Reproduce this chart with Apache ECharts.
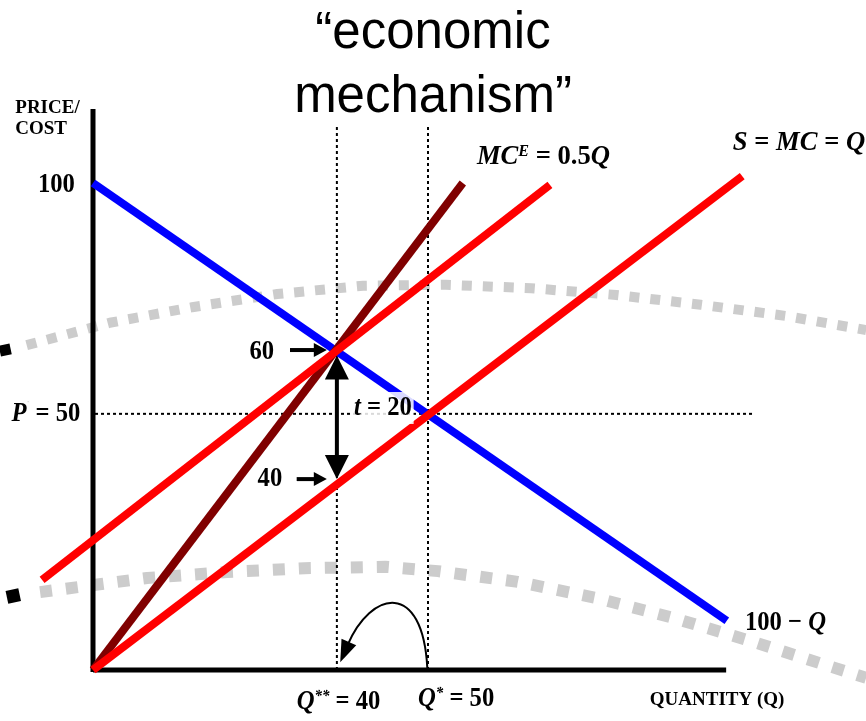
<!DOCTYPE html>
<html>
<head>
<meta charset="utf-8">
<title>economic mechanism</title>
<script src="https://cdn.jsdelivr.net/npm/echarts@6/dist/echarts.min.js"></script>
<style>
  html, body { margin: 0; padding: 0; background: #fff; }
  #main { width: 866px; height: 721px; }
</style>
</head>
<body>
<div id="main"></div>
<script>
// schematic diagram units: x = quantity, y = price / cost
var demand = [[0, 100], [94.6, 10.1]];            // 100 - Q
var supplyTaxed = [[-7.6, 18.5], [68.2, 99.6]];   // supply shifted up by t
var mcExternal = [[0, 0], [55.2, 100]];           // MC^E
var supply = [[0, 0], [96.9, 101.4]];             // S = MC = Q
var yAxisLine = [[0, -0.4], [0, 115.2]];
var xAxisLine = [[0, 0], [94.5, 0]];

var qStarStar = 36.4, qStar = 50, pLevel = 52.6, guideTop = 111.9;

var upperArc = [[-9.9, 66.7], [2.5, 71.3], [14.8, 74.5], [27.5, 77.2], [40.3, 78.9], [52.7, 79.1],
  [65.4, 78.4], [78.1, 77.0], [90.7, 75.0], [103.4, 72.7], [115.4, 69.8]];
var lowerArc = [[-7.9, 16.0], [8.1, 18.9], [20.0, 20.1], [31.6, 20.9], [43.6, 21.2], [51.5, 20.3],
  [63.4, 18.1], [75.1, 14.8], [86.6, 10.7], [98.5, 5.8], [109.4, 1.0], [115.4, -1.6]];
var arcEnds = [[-13.1, 65.7], [-11.9, 15.2]];

// x1, y1, x2, y2, heads (2 = both ends)
var straightArrows = [[36.4, 64.6, 36.4, 39.2, 2], [29.4, 65.7, 34.9, 65.7, 1], [30.4, 39.2, 34.9, 39.2, 1]];
// start, control 1, control 2, end
var curvedArrow = [[49.9, 0.4, 49.2, 18.5, 41.5, 16.4, 36.9, 1.6]];

var labelText = ['{b|100}', '{i|P}{t|\u02c8}{b| = 50}', '{b|60}', '{b|40}', '{i|t}{b| = 20}',
  '{i|MC}{s|E}{b| = 0.5}{i|Q}', '{i|S}{b| = }{i|MC}{b| = }{i|Q}', '{b|100 \u2212 }{i|Q}',
  '{i|Q}{s|**}{b| = 40}', '{i|Q}{s|*}{b| = 50}', '{c|QUANTITY (Q)}', '{c|PRICE/}\n{c|COST}'];
var labelAt = [[-2.7, 99.6], [-1.9, 52.6], [25.2, 65.3], [26.4, 39.2], [38.7, 53.8],
  [57.3, 105.3], [95.5, 108.2], [97.3, 9.7], [30.4, -6.6], [48.5, -6.0], [83.1, -6.2], [-11.6, 117.5]];
var labelStyle = [
  {align: 'right'}, {align: 'right'}, {align: 'center'}, {align: 'center', bg: '#fff'},
  {align: 'left', bg: 'rgba(255,255,255,0.85)'}, {align: 'left', sx: 0.95}, {align: 'left', sx: 0.95}, {align: 'left'},
  {align: 'left'}, {align: 'left'}, {align: 'left', sx: 1}, {align: 'left', va: 'top', sx: 1}
];

var serif = 'Liberation Serif, Times New Roman, serif';
var rich = {
  b: {fontFamily: serif, fontWeight: 'bold', fontSize: 28, fill: '#000'},
  i: {fontFamily: serif, fontWeight: 'bold', fontStyle: 'italic', fontSize: 28, fill: '#000'},
  s: {fontFamily: serif, fontWeight: 'bold', fontStyle: 'italic', fontSize: 17, fill: '#000', verticalAlign: 'top'},
  t: {fontFamily: serif, fontSize: 9, fill: '#999', verticalAlign: 'top'},
  c: {fontFamily: serif, fontWeight: 'bold', fontSize: 19, lineHeight: 21, fill: '#000'}
};

var chartDom = document.getElementById('main');
var chart = echarts.init(chartDom, null, {renderer: 'canvas'});

function plainLine(name, data, color, width, dash) {
  return {
    name: name,
    type: 'line',
    data: data,
    symbol: 'none',
    clip: false,
    silent: true,
    lineStyle: {color: color, width: width, type: dash || 'solid', cap: 'butt'}
  };
}

function renderArrow(params, api) {
  var a = api.coord([api.value(0), api.value(1)]);
  var b = api.coord([api.value(2), api.value(3)]);
  var both = api.value(4) === 2;
  var len = both ? 24 : 13, half = both ? 12 : 7;
  var dx = b[0] - a[0], dy = b[1] - a[1];
  var d = Math.sqrt(dx * dx + dy * dy);
  var ux = dx / d, uy = dy / d, nx = -uy, ny = ux;
  function head(tip, sgn) {
    var bx = tip[0] - sgn * ux * len, by = tip[1] - sgn * uy * len;
    return {
      type: 'polygon',
      shape: {points: [[tip[0], tip[1]], [bx + nx * half, by + ny * half], [bx - nx * half, by - ny * half]]},
      style: {fill: '#000'}
    };
  }
  var s = both ? [a[0] + ux * len * 0.8, a[1] + uy * len * 0.8] : a;
  var e = [b[0] - ux * len * 0.8, b[1] - uy * len * 0.8];
  var children = [{
    type: 'line',
    shape: {x1: s[0], y1: s[1], x2: e[0], y2: e[1]},
    style: {stroke: '#000', lineWidth: 4}
  }, head(b, 1)];
  if (both) children.push(head(a, -1));
  return {type: 'group', children: children};
}

function renderCurve(params, api) {
  var p0 = api.coord([api.value(0), api.value(1)]);
  var c1 = api.coord([api.value(2), api.value(3)]);
  var c2 = api.coord([api.value(4), api.value(5)]);
  var p1 = api.coord([api.value(6), api.value(7)]);
  var dx = p1[0] - c2[0], dy = p1[1] - c2[1];
  var d = Math.sqrt(dx * dx + dy * dy);
  var ux = dx / d, uy = dy / d, nx = -uy, ny = ux;
  var len = 22, half = 8;
  var bx = p1[0] - ux * len, by = p1[1] - uy * len;
  return {
    type: 'group',
    children: [{
      type: 'bezierCurve',
      shape: {x1: p0[0], y1: p0[1], cpx1: c1[0], cpy1: c1[1], cpx2: c2[0], cpy2: c2[1],
        x2: bx + ux * 4, y2: by + uy * 4},
      style: {stroke: '#000', lineWidth: 2, fill: null}
    }, {
      type: 'polygon',
      shape: {points: [[p1[0], p1[1]], [bx + nx * half, by + ny * half], [bx - nx * half, by - ny * half]]},
      style: {fill: '#000'}
    }]
  };
}

function renderLabel(params, api) {
  var i = params.dataIndex;
  var p = api.coord([api.value(0), api.value(1)]);
  var st = labelStyle[i];
  return {
    type: 'text',
    x: p[0],
    y: p[1],
    scaleX: st.sx || 0.88,
    style: {
      text: labelText[i],
      rich: rich,
      fill: '#000',
      font: 'bold 28px ' + serif,
      align: st.align,
      textAlign: st.align,
      verticalAlign: st.va || 'middle',
      textVerticalAlign: st.va || 'middle',
      backgroundColor: st.bg,
      padding: st.bg ? [2, 2, 2, 2] : 0
    }
  };
}

var option = {
  animation: false,
  title: {
    text: '\u201ceconomic\nmechanism\u201d',
    left: 'center',
    top: -3,
    textStyle: {
      fontFamily: 'Liberation Sans, Arial, sans-serif',
      fontWeight: 'normal',
      fontSize: 51,
      lineHeight: 64,
      color: '#000'
    }
  },
  // grid spans the whole canvas; axis ranges put the origin at (93, 670)
  grid: {left: 0, right: 0, top: 0, bottom: 0},
  xAxis: {type: 'value', min: -13.8806, max: 115.3731, show: false},
  yAxis: {type: 'value', min: -10.472, max: 137.577, show: false},
  series: [
    plainLine('upper arc', upperArc, '#cccccc', 10, [10, 11]),
    plainLine('lower arc', lowerArc, '#cccccc', 12, [12, 14]),
    {
      name: 'arc ends',
      type: 'scatter',
      data: arcEnds,
      symbol: 'rect',
      symbolSize: function (v, p) { return p.dataIndex === 0 ? 11 : 13; },
      symbolRotate: 12,
      itemStyle: {color: '#000', opacity: 1},
      silent: true
    },
    plainLine('y axis', yAxisLine, '#000', 5),
    plainLine('x axis', xAxisLine, '#000', 5),
    plainLine('Q**', [[qStarStar, 0], [qStarStar, guideTop]], '#000', 2, [3, 3]),
    plainLine('Q*', [[qStar, 0], [qStar, guideTop]], '#000', 2, [3, 3]),
    plainLine('P', [[0.3, pLevel], [98.8, pLevel]], '#000', 2, [3, 3]),
    plainLine('100 - Q', demand, '#0000ff', 8),
    plainLine('MC^E', mcExternal, '#800000', 8),
    plainLine('S + t', supplyTaxed, '#ff0000', 8),
    plainLine('S = MC = Q', supply, '#ff0000', 8),
    {
      name: 'arrows',
      type: 'custom',
      data: straightArrows,
      renderItem: renderArrow,
      silent: true
    },
    {
      name: 'curved arrow',
      type: 'custom',
      data: curvedArrow,
      renderItem: renderCurve,
      silent: true
    },
    {
      name: 'labels',
      type: 'custom',
      data: labelAt,
      renderItem: renderLabel,
      silent: true,
      z: 5
    }
  ]
};

option && chart.setOption(option);
</script>
</body>
</html>
